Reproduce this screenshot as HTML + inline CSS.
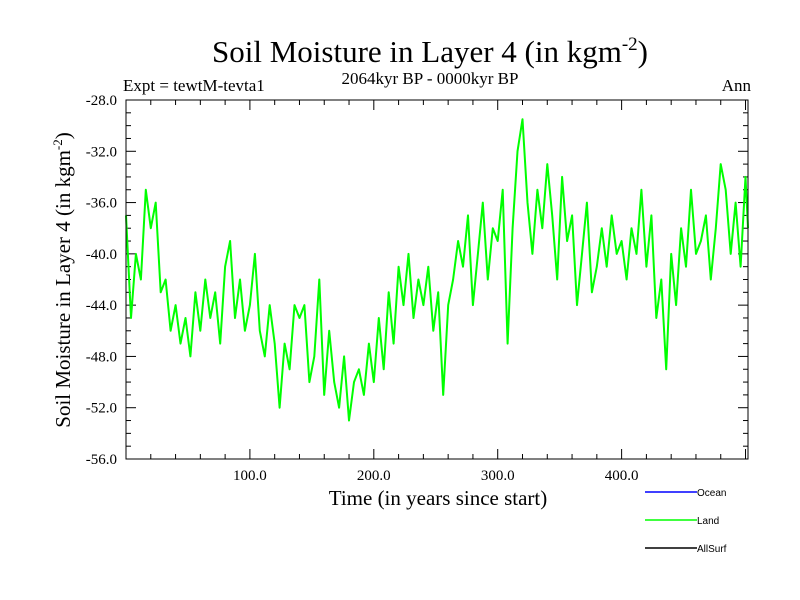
<!DOCTYPE html>
<html><head><meta charset="utf-8"><style>body{margin:0;background:#fff}svg{display:block}</style></head>
<body>
<svg width="800" height="600" xmlns="http://www.w3.org/2000/svg">
<g id="root"></g>
</svg>
<script>
const years = [0,4,8,12,16,20,24,28,32,36,40,44,48,52,56,60,64,68,72,76,80,84,88,92,96,100,104,108,112,116,120,124,128,132,136,140,144,148,152,156,160,164,168,172,176,180,184,188,192,196,200,204,208,212,216,220,224,228,232,236,240,244,248,252,256,260,264,268,272,276,280,284,288,292,296,300,304,308,312,316,320,324,328,332,336,340,344,348,352,356,360,364,368,372,376,380,384,388,392,396,400,404,408,412,416,420,424,428,432,436,440,444,448,452,456,460,464,468,472,476,480,484,488,492,496,500];
const landValues = [-37,-45,-40,-42,-35,-38,-36,-43,-42,-46,-44,-47,-45,-48,-43,-46,-42,-45,-43,-47,-41,-39,-45,-42,-46,-44,-40,-46,-48,-44,-47,-52,-47,-49,-44,-45,-44,-50,-48,-42,-51,-46,-50,-52,-48,-53,-50,-49,-51,-47,-50,-45,-49,-43,-47,-41,-44,-40,-45,-42,-44,-41,-46,-43,-51,-44,-42,-39,-41,-37,-44,-40,-36,-42,-38,-39,-35,-47,-38,-32,-29.5,-36,-40,-35,-38,-33,-37,-42,-34,-39,-37,-44,-40,-36,-43,-41,-38,-41,-37,-40,-39,-42,-38,-40,-35,-41,-37,-45,-42,-49,-40,-44,-38,-41,-35,-40,-39,-37,-42,-38,-33,-35,-40,-36,-41,-34,-38];
const yTicks = [-28,-32,-36,-40,-44,-48,-52,-56];
const xTicks = [100,200,300,400];
const X0=126,X1=748,Y0=100,Y1=459,XMIN=0,XMAX=502,YMAX=-28,YMIN=-56;
const sx=v=>X0+(v-XMIN)/(XMAX-XMIN)*(X1-X0);
const sy=v=>Y0+(YMAX-v)/(YMAX-YMIN)*(Y1-Y0);
const NS="http://www.w3.org/2000/svg";
const root=document.getElementById('root');
function mk(t,a,txt){const e=document.createElementNS(NS,t);for(const k in a)e.setAttribute(k,a[k]);if(txt!==undefined)e.textContent=txt;root.appendChild(e);return e;}
const serif='"Liberation Serif", serif';
let e;
e=mk('text',{x:430,y:62,'text-anchor':'middle','font-family':serif,'font-size':31},'Soil Moisture in Layer 4 (in kgm');


const ts=document.createElementNS(NS,'tspan');ts.setAttribute('dy','-12');ts.setAttribute('font-size','19');ts.textContent='-2';e.appendChild(ts);
const ts2=document.createElementNS(NS,'tspan');ts2.setAttribute('dy','12');ts2.textContent=')';e.appendChild(ts2);
e=mk('text',{x:430,y:84,'text-anchor':'middle','font-family':serif,'font-size':17},'2064kyr BP - 0000kyr BP');


e=mk('text',{x:123,y:91,'font-family':serif,'font-size':17},'Expt = tewtM-tevta1');


e=mk('text',{x:751,y:91,'text-anchor':'end','font-family':serif,'font-size':17},'Ann');


// ticks
for(let v=-56;v<=-28;v+=1){const y=sy(v);const L=(v%4===0)?10:5;
mk('line',{x1:X0,x2:X0+L,y1:y,y2:y,stroke:'#000','stroke-width':1});
mk('line',{x1:X1,x2:X1-L,y1:y,y2:y,stroke:'#000','stroke-width':1});}
for(let v=20;v<XMAX;v+=20){const x=sx(v);const L=(v%100===0)?10:5;
mk('line',{x1:x,x2:x,y1:Y1,y2:Y1-L,stroke:'#000','stroke-width':1});
mk('line',{x1:x,x2:x,y1:Y0,y2:Y0+L,stroke:'#000','stroke-width':1});}
yTicks.forEach(v=>{e=mk('text',{x:117,y:sy(v)+5,'text-anchor':'end','font-family':serif,'font-size':15},v.toFixed(1));

});
xTicks.forEach(v=>{e=mk('text',{x:sx(v),y:480,'text-anchor':'middle','font-family':serif,'font-size':15},v.toFixed(1));

});
e=mk('text',{x:438,y:505,'text-anchor':'middle','font-family':serif,'font-size':21},'Time (in years since start)');


e=mk('text',{x:0,y:0,'text-anchor':'middle','font-family':serif,'font-size':21,transform:'translate(70,280) rotate(-90)'},'Soil Moisture in Layer 4 (in kgm');


const t3=document.createElementNS(NS,'tspan');t3.setAttribute('dy','-8');t3.setAttribute('font-size','13');t3.textContent='-2';e.appendChild(t3);
const t4=document.createElementNS(NS,'tspan');t4.setAttribute('dy','8');t4.textContent=')';e.appendChild(t4);
// series
const pts=years.map((yr,i)=>sx(yr).toFixed(1)+','+sy(landValues[i]).toFixed(1));
pts.push(X1+','+sy(landValues[landValues.length-1]).toFixed(1));
e=mk('polyline',{points:pts.join(' '),fill:'none',stroke:'#00ff00','stroke-width':2,'stroke-linejoin':'round'});


e=mk('rect',{x:X0,y:Y0,width:X1-X0,height:Y1-Y0,fill:'none',stroke:'#000','stroke-width':1});


// legend
[['Ocean','#0000ff',492],['Land','#00ff00',520],['AllSurf','#000',548]].forEach(([n,c,y])=>{
e=mk('line',{x1:645,x2:697,y1:y,y2:y,stroke:c,'stroke-width':1.5});


e=mk('text',{x:697,y:y+4,'font-family':'"Liberation Sans", sans-serif','font-size':10},n);

});
</script>
</body></html>
